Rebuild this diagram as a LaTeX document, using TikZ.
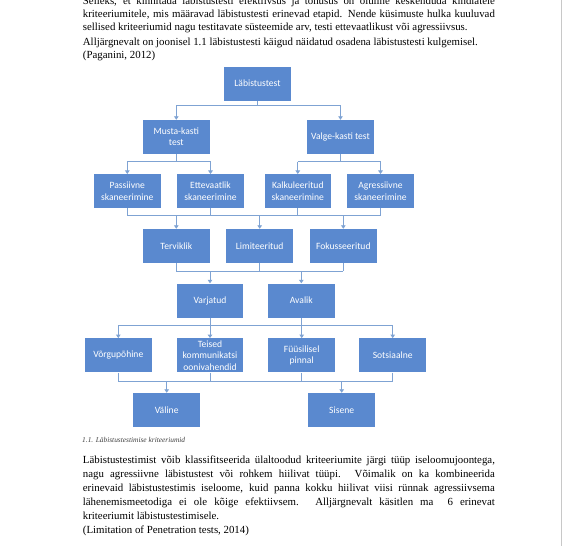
\documentclass[tikz,border=0pt]{standalone}
\usepackage{fontspec}
\setmainfont{Liberation Serif}
\newfontfamily\boxfont{Carlito}
\usetikzlibrary{arrows.meta}
\definecolor{boxblue}{HTML}{5A89CF}
\definecolor{connblue}{HTML}{7FA3D3}
\definecolor{pageline}{HTML}{C8C8C8}
\definecolor{captiongray}{HTML}{404040}
\begin{document}
\begin{tikzpicture}[x=1bp,y=-1bp,
  bx/.style={fill=boxblue, draw=none, minimum width=66.5bp, minimum height=34bp, inner sep=1bp, text=white, align=center, font=\boxfont\fontsize{9.6bp}{11.4bp}\selectfont},
  conn/.style={draw=connblue, line width=0.9bp},
  arr/.style={conn, -{Triangle[width=4.5bp,length=3.5bp]}},
  txt/.style={anchor=base west, inner sep=0pt, text=black, font=\fontsize{10.85bp}{13bp}\selectfont},
  captxt/.style={anchor=base west, inner sep=0pt, text=captiongray, font=\itshape\fontsize{7.4bp}{9bp}\selectfont},
]
\clip (0,0) rectangle (563,546);
\fill[white] (0,0) rectangle (563,546);
\draw[pageline, line width=1.5bp] (561.5,0) -- (561.5,546);

% top text
\node[txt] (t1) at (82.7,4.5) {\makebox[412bp][s]{Selleks, et kinnitada läbistustesti efektiivsus ja tõhusus on oluline keskenduda kindlatele}};
\node[txt] (t2) at (82.7,17.5) {\makebox[412bp][s]{kriteeriumitele, mis määravad läbistustesti erinevad etapid. Nende küsimuste hulka kuuluvad}};
\node[txt] (t3) at (82.7,30.5) {sellised kriteeriumid nagu testitavate süsteemide arv, testi ettevaatlikust või agressiivsus.};
\node[txt] (t4) at (82.7,45.5) {Alljärgnevalt on joonisel 1.1 läbistustesti käigud näidatud osadena läbistustesti kulgemisel.};
\node[txt] (t5) at (82.7,59) {(Paganini, 2012)};

% boxes
\node[bx] (root) at (257.5,83.6) {Läbistustest};
\node[bx] (musta) at (176.3,137) {Musta-kasti\\test};
\node[bx] (valge) at (340.5,137) {Valge-kasti test};
\node[bx] (pass) at (127.3,191.2) {Passiivne\\skaneerimine};
\node[bx] (ette) at (210.5,191.2) {Ettevaatlik\\skaneerimine};
\node[bx] (kalk) at (297.8,191.2) {Kalkuleeritud\\skaneerimine};
\node[bx] (agr) at (380.5,191.2) {Agressiivne\\skaneerimine};
\node[bx] (terv) at (176.3,246) {Terviklik};
\node[bx] (limi) at (259.7,246) {Limiteeritud};
\node[bx] (foku) at (343.3,246) {Fokusseeritud};
\node[bx] (varj) at (210,300.5) {Varjatud};
\node[bx] (aval) at (301.3,300.5) {Avalik};
\node[bx] (vorgu) at (118.3,355.3) {Võrgupõhine};
\node[bx] (teised) at (210,355.3) {Teised\\kommunikatsi\\oonivahendid};
\node[bx] (fuus) at (301.7,355.3) {Füüsilisel\\pinnal};
\node[bx] (sots) at (392.7,355.3) {Sotsiaalne};
\node[bx] (valine) at (166.7,410) {Väline};
\node[bx] (sisene) at (341.7,410) {Sisene};

% bus coordinates
\coordinate (b1) at (0,105.7);
\coordinate (b2) at (0,161.7);
\coordinate (b3) at (0,215.5);
\coordinate (b4) at (0,271);
\coordinate (b5) at (0,325);
\coordinate (b6) at (0,381);

% level 1 -> 2
\draw[conn] (root.south) -- (root.south |- b1);
\draw[conn] (musta.north |- b1) -- (valge.north |- b1);
\draw[arr] (musta.north |- b1) -- (musta.north);
\draw[arr] (valge.north |- b1) -- (valge.north);

% level 2 -> 3
\draw[conn] (musta.south) -- (musta.south |- b2);
\draw[conn] (pass.north |- b2) -- (ette.north |- b2);
\draw[arr] (pass.north |- b2) -- (pass.north);
\draw[arr] (ette.north |- b2) -- (ette.north);
\draw[conn] (valge.south) -- (valge.south |- b2);
\draw[conn] (kalk.north |- b2) -- (agr.north |- b2);
\draw[arr] (kalk.north |- b2) -- (kalk.north);
\draw[arr] (agr.north |- b2) -- (agr.north);

% level 3 -> 4
\foreach \n in {pass,ette,kalk,agr} \draw[conn] (\n.south) -- (\n.south |- b3);
\draw[conn] (pass.south |- b3) -- (agr.south |- b3);
\foreach \n in {terv,limi,foku} \draw[arr] (\n.north |- b3) -- (\n.north);

% level 4 -> 5
\foreach \n in {terv,limi,foku} \draw[conn] (\n.south) -- (\n.south |- b4);
\draw[conn] (terv.south |- b4) -- (foku.south |- b4);
\foreach \n in {varj,aval} \draw[arr] (\n.north |- b4) -- (\n.north);

% level 5 -> 6
\foreach \n in {varj,aval} \draw[conn] (\n.south) -- (\n.south |- b5);
\draw[conn] (vorgu.north |- b5) -- (sots.north |- b5);
\foreach \n in {vorgu,teised,fuus,sots} \draw[arr] (\n.north |- b5) -- (\n.north);

% level 6 -> 7
\foreach \n in {vorgu,teised,fuus,sots} \draw[conn] (\n.south) -- (\n.south |- b6);
\draw[conn] (vorgu.south |- b6) -- (sots.south |- b6);
\foreach \n in {valine,sisene} \draw[arr] (\n.north |- b6) -- (\n.north);

% caption
\node[captxt] (caption) at (82,442) {1.1. Läbistustestimise kriteeriumid};

% bottom text
\node[txt] (u1) at (82.7,463.5) {\makebox[412bp][s]{Läbistustestimist võib klassifitseerida ülaltoodud kriteeriumite järgi tüüp iseloomujoontega,}};
\node[txt] (u2) at (82.7,477.5) {\makebox[412bp][s]{nagu agressiivne läbistustest või rohkem hiilivat tüüpi. Võimalik on ka kombineerida}};
\node[txt] (u3) at (82.7,491.5) {\makebox[412bp][s]{erinevaid läbistustestimis iseloome, kuid panna kokku hiilivat viisi rünnak agressiivsema}};
\node[txt] (u4) at (82.7,505.5) {\makebox[412bp][s]{lähenemismeetodiga ei ole kõige efektiivsem. Alljärgnevalt käsitlen ma\ \ 6 erinevat}};
\node[txt] (u5) at (82.7,519.5) {kriteeriumit läbistustestimisele.};
\node[txt] (u6) at (82.7,533.5) {(Limitation of Penetration tests, 2014)};
\end{tikzpicture}
\end{document}
